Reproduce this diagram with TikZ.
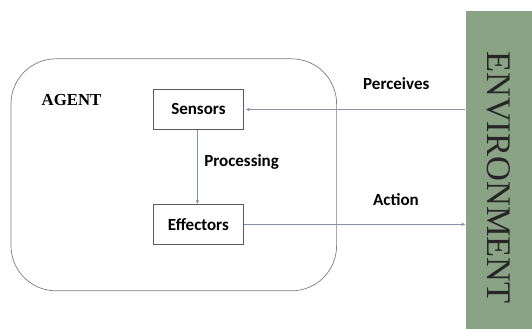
\documentclass[tikz,border=0pt]{standalone}
\usepackage{fontspec}
\setmainfont{Liberation Serif}
\newfontfamily\calfont{Carlito}
\usetikzlibrary{arrows.meta}
\definecolor{envgreen}{RGB}{137,163,132}
\definecolor{boxline}{RGB}{90,90,90}
\definecolor{agentline}{RGB}{125,125,125}
\definecolor{arrline}{RGB}{135,145,170}
\tikzset{
  blockbox/.style={draw=boxline, line width=0.8pt, minimum width=90pt, minimum height=40pt, inner sep=0pt, font=\calfont\bfseries\fontsize{17}{17}\selectfont},
  lbl/.style={inner sep=0pt, font=\calfont\bfseries\fontsize{17}{17}\selectfont},
  conn/.style={draw=arrline, line width=0.7pt, -{Stealth[length=4pt,width=3.5pt]}}
}
\begin{document}
\begin{tikzpicture}[x=1pt,y=-1pt]
\useasboundingbox (0,0) rectangle (532,329);
\node[draw=agentline, line width=0.7pt, rounded corners=45pt, minimum width=325.6pt, minimum height=232pt, inner sep=0pt] (agent) at (173.8,174.8) {};
\node[inner sep=0pt, font=\bfseries\fontsize{16.8}{17}\selectfont] (agentlbl) at (71.5,100) {AGENT};
\node[fill=envgreen, minimum width=66.5pt, minimum height=318pt, inner sep=0pt] (env) at (498.75,170) {};
\node[rotate=-90, inner sep=0pt, font=\fontsize{34.5}{35}\selectfont, text=black!85] (envlbl) at (499,177.5) {ENVIRONMENT};
\node[blockbox] (sensors) at (198.4,109.4) {Sensors};
\node[blockbox] (effectors) at (198.4,224.3) {Effectors};
\node[lbl] (proc) at (241.6,162.2) {Processing};
\node[lbl] (perc) at (396.3,83.8) {Perceives};
\node[lbl] (act) at (396,200) {Action};
\draw[conn] (sensors.east -| env.west) -- ([xshift=2pt]sensors.east);
\draw[conn] (effectors.east) -- (effectors.east -| env.west);
\draw[conn] ([xshift=-1pt]sensors.south) -- ([xshift=-1pt]effectors.north);
\end{tikzpicture}
\end{document}
